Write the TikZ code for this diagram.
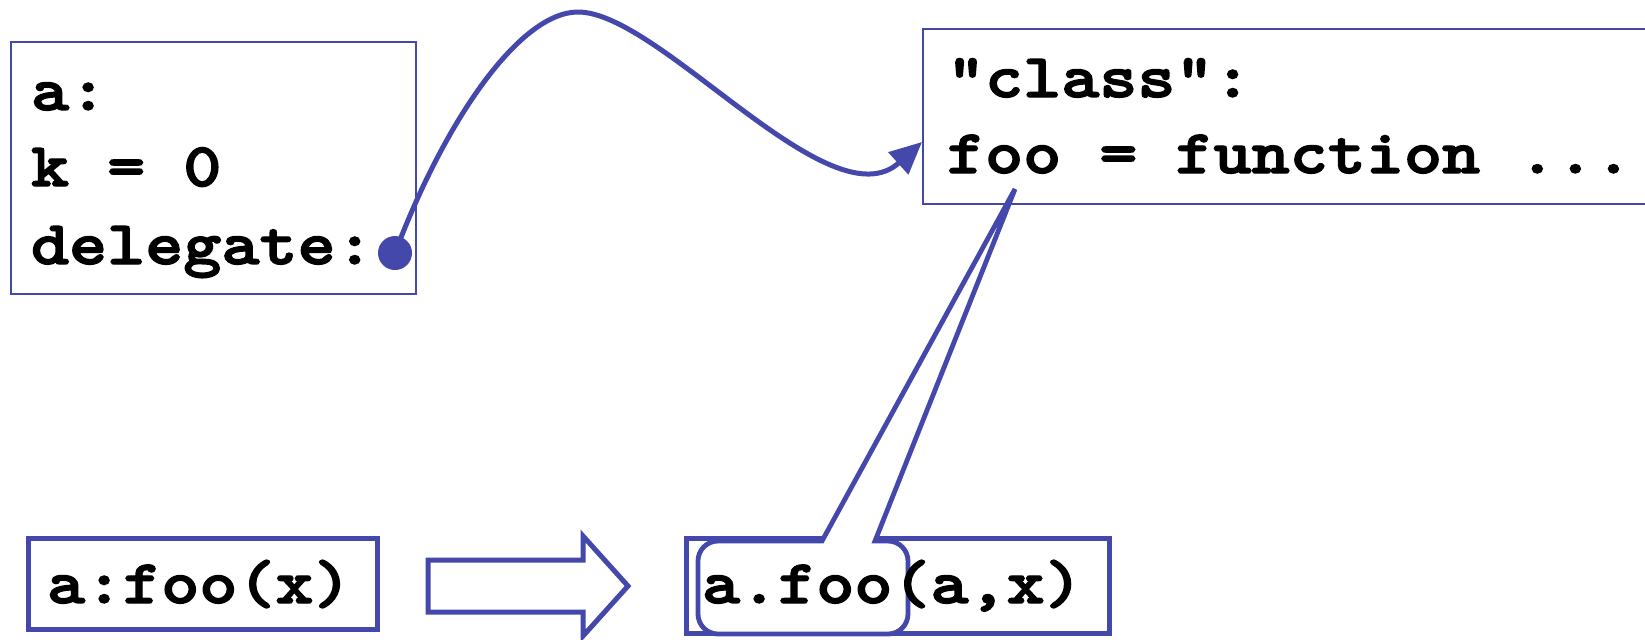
\documentclass[tikz,border=0pt]{standalone}
\usepackage{fontspec}
\usetikzlibrary{arrows.meta,calc}
\definecolor{ink}{RGB}{67,72,170}
\newfontfamily\courfont[FakeStretch=1.17,FakeBold=2.3]{lmmonolt10-bold.otf}
\begin{document}
\begin{tikzpicture}[x=0.5pt,y=-0.5pt,
  thinbox/.style={draw=ink,line width=1pt,rectangle,inner sep=0pt,outer sep=0pt,anchor=north west},
  thickbox/.style={draw=ink,line width=2.5pt,rectangle,inner sep=0pt,outer sep=0pt,anchor=north west},
  code/.style={font=\courfont\fontsize{31pt}{38pt}\selectfont,anchor=base west,inner sep=0pt,outer sep=0pt},
  link/.style={draw=ink,line width=2.5pt},
  callout/.style={draw=ink,line width=2.4pt,fill=white,line join=miter},
  bigarrow/.style={draw=ink,line width=2.5pt,fill=white,line join=miter}
]
\useasboundingbox (0,0) rectangle (1645,639);

% boxes
\node[thinbox, minimum width=202.5pt, minimum height=126pt] (boxa) at (10.5,42) {};
\node[thinbox, minimum width=368.5pt, minimum height=87.35pt] (boxb) at (923,29.3) {};
\node[thickbox, minimum width=174.5pt, minimum height=45.25pt] (boxc) at (28.5,538.5) {};
\node[thickbox, minimum width=211.5pt, minimum height=47.5pt] (boxd) at (686.5,538.5) {};

% texts
\node[code] (ta1) at (31,110) {a:};
\node[code] (ta2) at (31,186) {k = 0};
\node[code] (ta3) at (31,264) {delegate:};
\node[code] (tb1) at (947,97) {"class":};
\node[code] (tb2) at (947,173) {foo = function ...};
\node[code] (tc) at (47,603) {a:foo(x)};

% delegate pointer
\node[circle, fill=ink, minimum size=17pt, inner sep=0pt] (dot) at (395,253) {};
\coordinate (tgt) at (922,142);
\draw[link, -{Triangle[length=16pt,width=14.5pt]}]
  (dot.center) .. controls (445,120) and (520,12) .. (578,12)
  .. controls (660,12) and (830,225) .. (tgt);

% transformation arrow
\draw[bigarrow] (428,560) -- (583,560) -- (583,536) -- (628,586) -- (583,636) -- (583,612) -- (428,612) -- cycle;

% callout around a.foo
\coordinate (fooref) at (1015,189);
\draw[callout] (822,541) -- (fooref) -- (875,541) -- (880,541)
  [rounded corners=10pt] -- (908,541) -- (908,634) -- (698,634) -- (698,541) -- (760,541)
  [sharp corners] -- cycle;
\node[code] (td) at (702,603) {a.foo(a,x)};
\end{tikzpicture}
\end{document}
